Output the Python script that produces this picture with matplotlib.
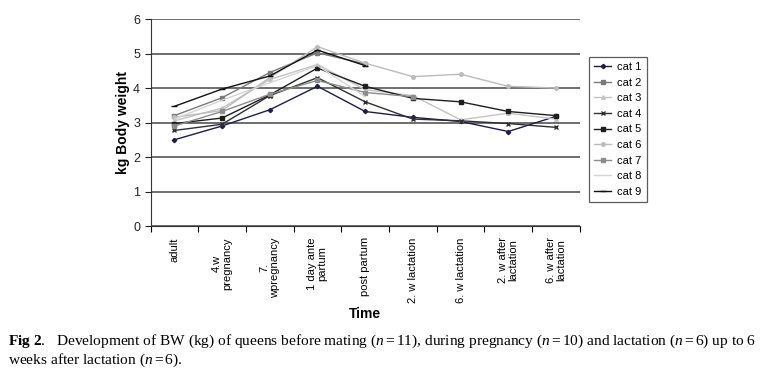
import numpy as np
import matplotlib
matplotlib.use('Agg')
import matplotlib.pyplot as plt

plt.rcParams['font.family'] = ['Liberation Sans', 'DejaVu Sans']
plt.rcParams['mathtext.fontset'] = 'custom'
plt.rcParams['mathtext.rm'] = 'Liberation Serif'
plt.rcParams['mathtext.it'] = 'Liberation Serif:italic'
plt.rcParams['mathtext.bf'] = 'Liberation Serif:bold'

nan = np.nan

# time points
etiquetas = ['adult', '4.w\npregnancy', '7.\nwpregnancy', '1 day ante\npartum',
             'post partum', '2. w lactation', '6. w lactation',
             '2. w after\nlactation', '6. w after\nlactation']

# body weight (kg) per cat
cat1 = [2.50, 2.90, 3.37, 4.05, 3.32, 3.15, 3.03, 2.74, 3.18]
cat2 = [3.20, 3.72, 4.45, 5.02, 4.70, nan, nan, nan, nan]
cat3 = [3.05, 3.42, 4.25, 4.68, 3.95, 3.78, 3.08, 3.27, 3.10]
cat4 = [2.77, 2.95, 3.78, 4.30, 3.60, 3.10, 3.05, 2.97, 2.86]
cat5 = [2.97, 3.13, 3.80, 4.58, 4.05, 3.70, 3.60, 3.32, 3.20]
cat6 = [3.15, 3.35, 4.30, 5.20, 4.72, 4.33, 4.40, 4.05, 4.00]
cat7 = [2.90, 3.32, 3.82, 4.22, 3.87, 3.75, nan, nan, nan]
cat8 = [3.10, 3.65, 4.15, 4.65, 3.75, nan, nan, nan, nan]
cat9 = [3.47, 3.97, 4.35, 5.10, 4.65, nan, nan, nan, nan]

series = [cat1, cat2, cat3, cat4, cat5, cat6, cat7, cat8, cat9]
nombres = ['cat 1', 'cat 2', 'cat 3', 'cat 4', 'cat 5', 'cat 6', 'cat 7', 'cat 8', 'cat 9']
colores = ['#1c1c50', '#7a7a7a', '#c4c4c4', '#303030', '#1e1e1e', '#bcbcbc', '#8c8c8c', '#d4d4d4', '#111111']
marcadores = ['D', 's', '^', 'x', 's', 'o', 's', '', '_']
tamanos = [2.2, 2.6, 2.6, 3.5, 2.6, 2.6, 2.6, 0, 4.5]

fig = plt.figure(figsize=(7.68, 3.73), dpi=100)
ax = fig.add_axes([0.196, 0.394, 0.559, 0.555])

x = np.arange(len(etiquetas))
for s, n, c, m, ms in zip(series, nombres, colores, marcadores, tamanos):
    ax.plot(x, s, color=c, marker=m, markersize=ms, linewidth=1.0, label=n)

ax.set_xlim(-0.5, len(etiquetas) - 0.5)
ax.set_ylim(0, 6)
ax.set_yticks(range(7))
ax.yaxis.grid(True, color='#555555', linewidth=1.2)
ax.set_axisbelow(True)
for lado in ['top', 'right']:
    ax.spines[lado].set_visible(False)
ax.spines['left'].set_color('#333333')
ax.spines['bottom'].set_color('#333333')

# tick marks between categories, labels at centers
ax.set_xticks(np.arange(-0.5, len(etiquetas) + 0.5, 1))
ax.set_xticklabels([])
ax.set_xticks(x, minor=True)
ax.set_xticklabels(etiquetas, minor=True, rotation=90, fontsize=8,
                   linespacing=1.0, va='top', ha='center')
ax.tick_params(axis='x', which='minor', length=0, pad=8)
ax.tick_params(axis='x', which='major', length=4, direction='out')
ax.tick_params(axis='y', labelsize=9, length=4, colors='#222222')

ax.set_ylabel('kg Body weight', fontsize=10, fontweight='bold', labelpad=2)
ax.set_xlabel('Time', fontsize=10, fontweight='bold', labelpad=3)

leg = ax.legend(loc='upper left', bbox_to_anchor=(1.008, 0.845), fontsize=8,
                frameon=True, fancybox=False, edgecolor='#333333',
                handlelength=1.5, handletextpad=0.5, labelspacing=0.5,
                borderpad=0.5)
leg.get_frame().set_linewidth(0.9)

fig.text(0.010, 0.086, r'$\mathbf{Fig\ 2}$.   Development of BW (kg) of queens before mating ($n = 11$), '
         r'during pregnancy ($n = 10$) and lactation ($n = 6$) up to 6',
         fontsize=11.1, family='Liberation Serif', va='center')
fig.text(0.010, 0.035, r'weeks after lactation ($n = 6$).',
         fontsize=11.1, family='Liberation Serif', va='center')

fig.savefig('out.png', dpi=100)
